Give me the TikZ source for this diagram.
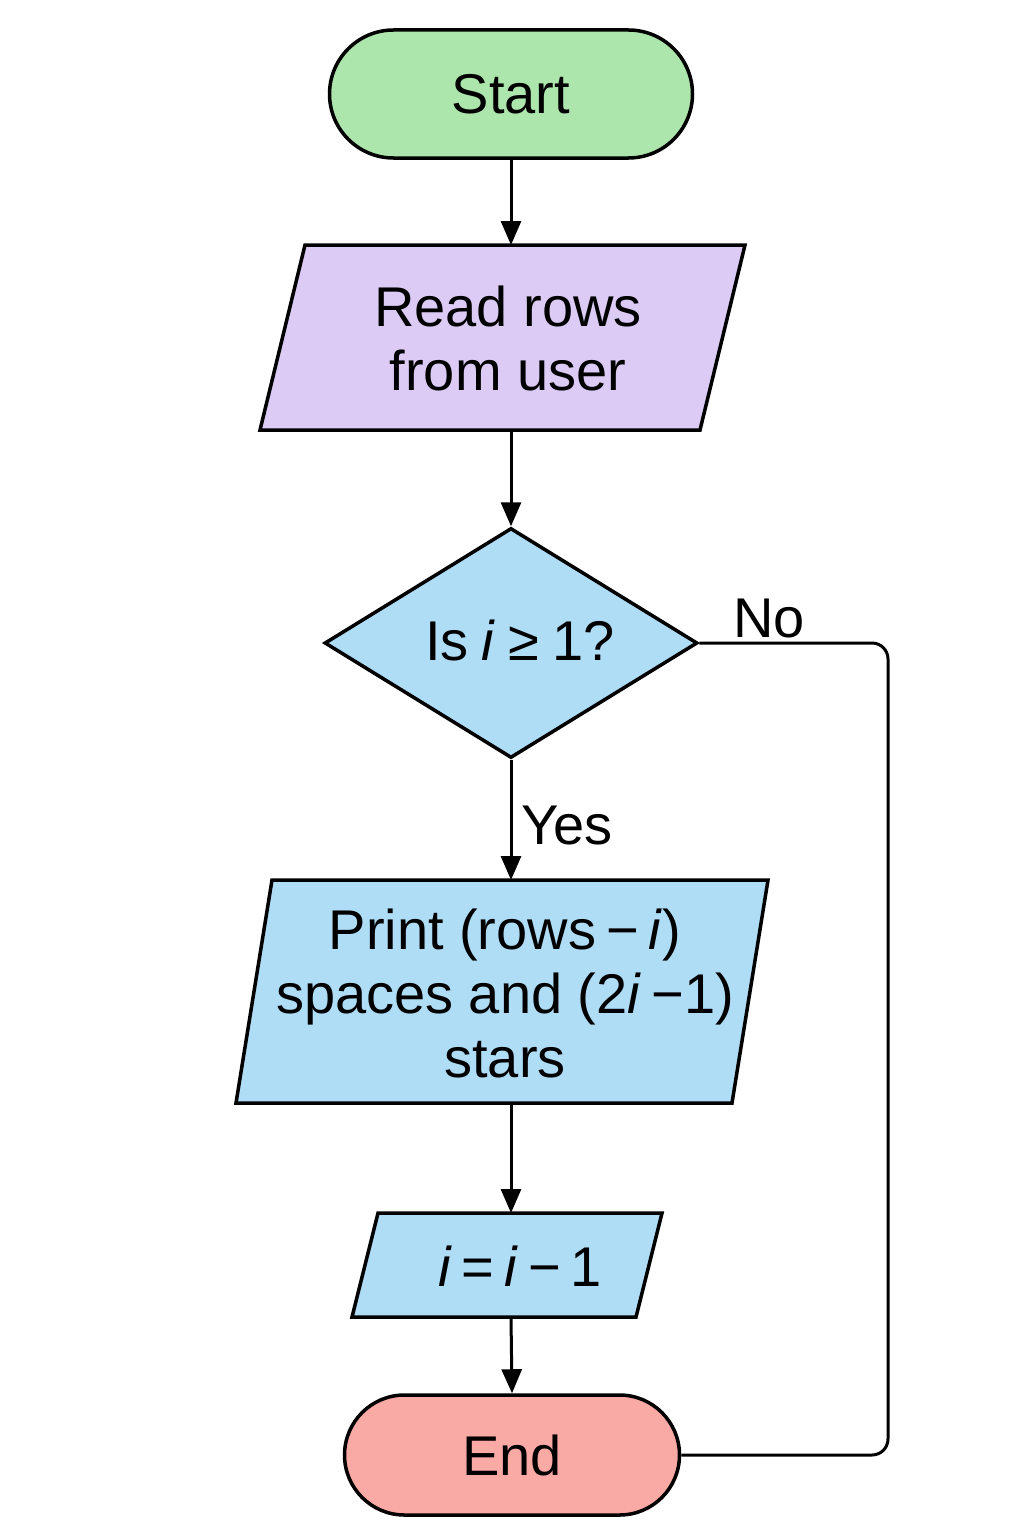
\documentclass[tikz,border=0pt]{standalone}
\usepackage{fontspec}
\setmainfont{Liberation Sans}
\usetikzlibrary{shapes.misc,shapes.geometric,arrows.meta}
\definecolor{cgreen}{HTML}{ADE6AD}
\definecolor{clav}{HTML}{DCCBF4}
\definecolor{cblue}{HTML}{B0DDF6}
\definecolor{cpink}{HTML}{FAAAA5}
\tikzset{
  box/.style={draw=black,line width=3.5pt,line join=miter},
  stadium/.style={rounded rectangle,draw=black,line width=3.5pt,minimum width=363pt,minimum height=128pt,inner sep=0pt,font=\bigfont},
  txt/.style={align=center,font=\bigfont,inner sep=0pt},
  arr/.style={line width=3pt,-{Triangle[length=24pt,width=20pt]}},
  conn/.style={line width=3pt},
}
\newcommand{\bigfont}{\fontsize{56}{64}\selectfont}
\newcommand{\ts}{\hspace{10pt}}
\begin{document}
\begin{tikzpicture}[x=1pt,y=-1pt]
\useasboundingbox (0,0) rectangle (1024,1536);
% Start
\node[stadium,fill=cgreen] (start) at (511,94) {Start};
% Read
\draw[box,fill=clav] (305,245) -- (745,245) -- (700,430) -- (260,430) -- cycle;
\node[txt] (read) at (508,338) {Read rows\\from user};
\coordinate (readT) at (511,245);
\coordinate (readB) at (511,430);
% Decision
\node[diamond,draw=black,line width=3.5pt,fill=cblue,minimum width=373pt,minimum height=230pt,inner sep=0pt,aspect=1.62] (dec) at (511,643) {};
\node[txt] (dect) at (520,640) {Is\hspace{13pt}\textit{i}\hspace{13pt}≥\hspace{13pt}1?};
% Print
\draw[box,fill=cblue] (272,880) -- (768,880) -- (732,1103) -- (236,1103) -- cycle;
\node[txt] (print) at (505,993) {Print (rows\ts−\ts\textit{i})\hspace{40pt}\\spaces and (2\textit{i}\ts−1)\\stars};
\coordinate (printT) at (511,880);
\coordinate (printB) at (511,1103);
% decrement
\draw[box,fill=cblue] (378,1213) -- (662,1213) -- (636,1317) -- (352,1317) -- cycle;
\node[txt] (dec2) at (520,1266) {\textit{i}\ts=\ts\textit{i}\ts−\ts1};
\coordinate (decT) at (511,1213);
\coordinate (decB) at (511,1317);
% End
\node[stadium,fill=cpink,minimum width=335pt,minimum height=120pt] (end) at (512,1455) {End};
% connectors
\draw[arr] (start.south) -- (readT);
\draw[arr] (readB) -- (dec.north);
\draw[arr] (dec.south) -- (printT);
\draw[arr] (printB) -- (decT);
\draw[arr] (decB) -- (end.north);
\draw[conn,rounded corners=16pt] (dec.east) -- (888,643) -- (888,1455) -- (end.east);
% labels
\node[txt] (yes) at (567,826) {Yes};
\node[txt] (no) at (769,619) {No};
\end{tikzpicture}
\end{document}
